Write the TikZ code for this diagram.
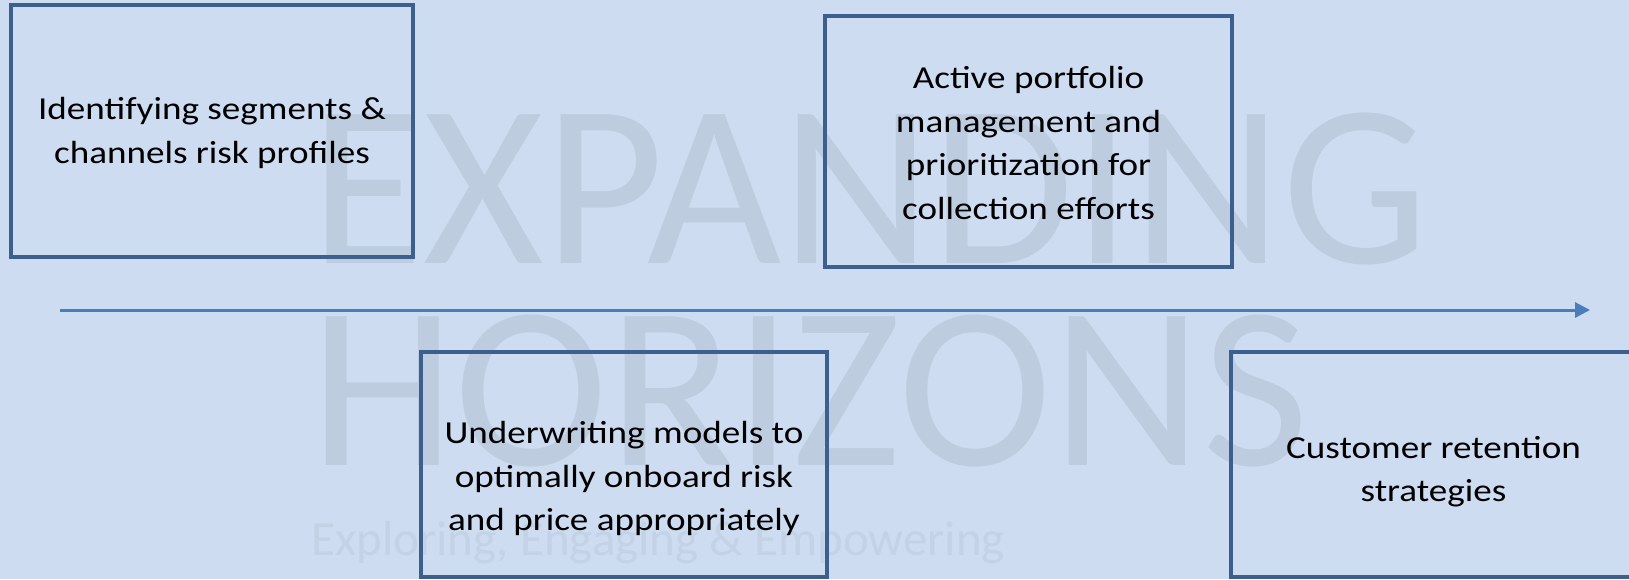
\documentclass[tikz,border=0pt]{standalone}
\usepackage{fontspec}
\usepackage{xcolor}
\usepackage{tikz}
\usetikzlibrary{positioning, arrows.meta}

\newfontfamily\boxfont[FakeStretch=1.16]{Carlito}
\newfontfamily\markfont{Carlito}

\definecolor{bgblue}{HTML}{CDDCF1}
\definecolor{markgray}{HTML}{BECCDF}
\definecolor{taggray}{HTML}{C4D2E6}
\definecolor{edgeblue}{HTML}{3C5F8E}
\definecolor{lineblue}{HTML}{4A7EBB}

% box text, lowered a little inside its box
\newcommand{\stagetext}[2]{\raisebox{-#1}[\height][\depth]{\begin{tabular}{@{}c@{}}#2\end{tabular}}}

\begin{document}
\begin{tikzpicture}[
    x=0.5pt, y=-0.5pt,
    stage/.style={rectangle, draw=edgeblue, line width=2.25pt, inner sep=0pt, align=center,
        font={\boxfont\fontsize{16pt}{21.75pt}\selectfont}},
    watermark/.style={anchor=base west, inner sep=0pt, text=markgray,
        font={\markfont\fontsize{116pt}{116pt}\selectfont}},
    timeline/.style={-{Triangle[length=7.5pt, width=7.5pt]}, draw=lineblue, line width=1.5pt}
]
\useasboundingbox (0,0) rectangle (1629,579);
\fill[bgblue] (0,0) rectangle (1629,579);

% watermark
\node[watermark] (wexp) at (310,263) {EXPANDING};
\node[watermark] (whor) at (310,465) {HORIZONS};
\node[anchor=base west, inner sep=0pt, text=taggray,
    font={\markfont\fontsize{24.5pt}{24.5pt}\selectfont}] (wtag) at (311,555) {Exploring, Engaging \& Empowering};

% timeline
\coordinate (tstart) at (60,310);
\coordinate (tend) at (1590,310);
\draw[timeline] (tstart) -- (tend);

% stages
\node[stage, minimum width=201pt, minimum height=126pt] (segments) at (212,131)
    {\stagetext{1pt}{Identifying segments \&\\channels risk profiles}};
\node[stage, minimum width=203.5pt, minimum height=125.5pt] (portfolio) at (1028.5,141.5)
    {\stagetext{2pt}{Active portfolio\\management and\\prioritization for\\collection efforts}};
\node[stage, minimum width=203pt, minimum height=112.5pt] (underwriting) at (624,464.5)
    {\stagetext{7pt}{Underwriting models to\\optimally onboard risk\\and price appropriately}};
\node[stage, minimum width=202.5pt, minimum height=112.5pt] (retention) at (1433.5,464.5)
    {\stagetext{3.5pt}{Customer retention\\strategies}};
\end{tikzpicture}
\end{document}
